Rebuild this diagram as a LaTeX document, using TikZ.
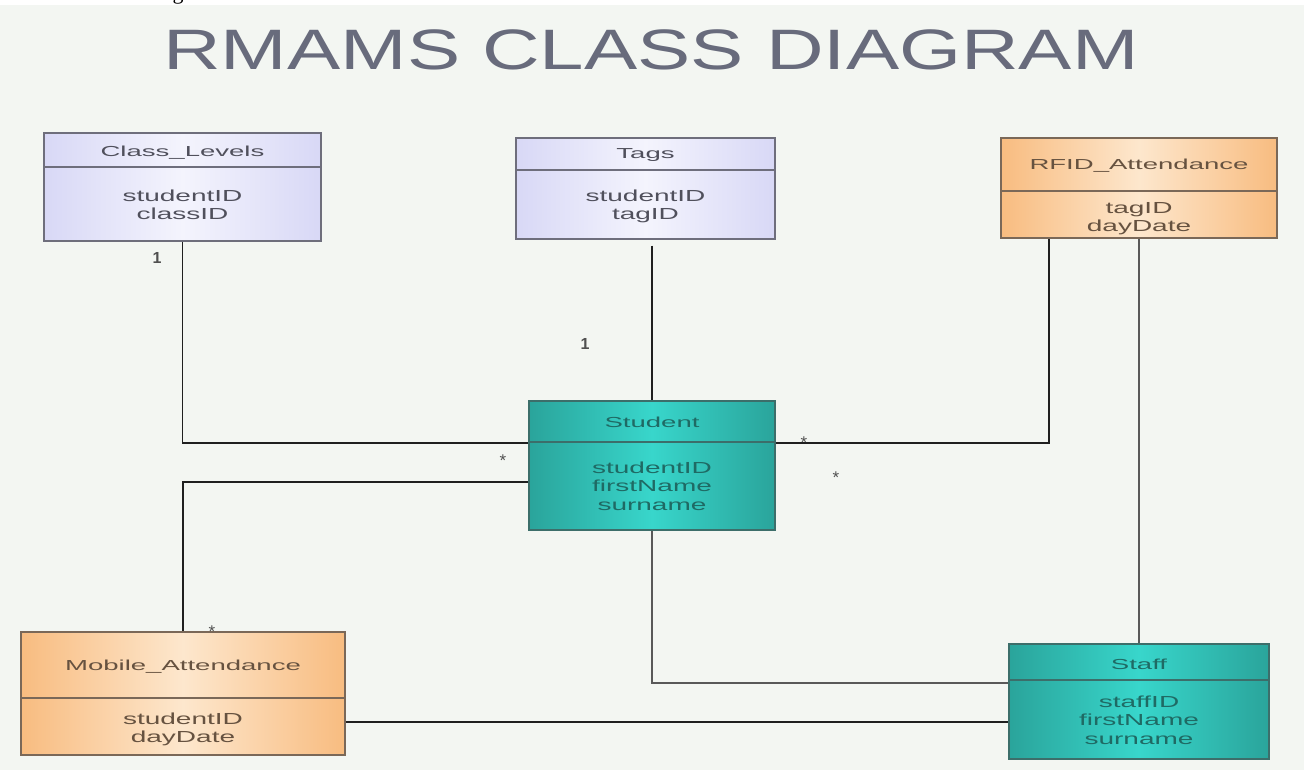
\documentclass[tikz,border=0pt]{standalone}
\usepackage{fontspec}
\setmainfont{Liberation Sans}
\newfontfamily\serifg{Liberation Serif}
\usetikzlibrary{calc}
\definecolor{bgc}{HTML}{F3F6F2}
\definecolor{lavedge}{HTML}{D8D8F6}
\definecolor{lavmid}{HTML}{F4F4FD}
\definecolor{oredge}{HTML}{F8BC80}
\definecolor{ormid}{HTML}{FDE7CD}
\definecolor{tledge}{HTML}{2AA49B}
\definecolor{tlmid}{HTML}{38D6CB}
\definecolor{titleclr}{HTML}{686B7C}
\definecolor{lavtxt}{HTML}{50505C}
\definecolor{ortxt}{HTML}{665240}
\definecolor{tltxt}{HTML}{1F6A64}
\definecolor{lavbd}{HTML}{6E6E7C}
\definecolor{orbd}{HTML}{7A6858}
\definecolor{tlbd}{HTML}{3C6E6A}
\definecolor{multc}{HTML}{505050}
\newcommand{\stretchtxt}[2][1.75]{\scalebox{#1}[1]{#2}}
\newcommand{\ttl}[1]{\stretchtxt[1.9]{\fontsize{14.5}{16}\selectfont #1}}
\newcommand{\attrs}[1]{\stretchtxt[1.75]{\fontsize{16}{18.5}\selectfont\renewcommand{\arraystretch}{1}\begin{tabular}{@{}c@{}}#1\end{tabular}}}
\tikzset{
  lavbox/.style={draw=lavbd, line width=1.2pt, left color=lavedge, right color=lavedge, middle color=lavmid, inner sep=0pt},
  orbox/.style={draw=orbd, line width=1.2pt, left color=oredge, right color=oredge, middle color=ormid, inner sep=0pt},
  tlbox/.style={draw=tlbd, line width=1.2pt, left color=tledge, right color=tledge, middle color=tlmid, inner sep=0pt},
  divl/.style={line width=1.1pt},
  conn/.style={draw=black!88, line width=1.8pt},
  connlt/.style={draw=black!65, line width=1.8pt},
  mult/.style={text=multc, font=\fontsize{16}{16}\selectfont\bfseries, inner sep=0pt},
  star/.style={text=multc, font=\fontsize{17}{17}\selectfont, inner sep=0pt},
}
\begin{document}
\begin{tikzpicture}[x=1pt,y=-1pt]
\useasboundingbox (0,0) rectangle (1304,774);
\fill[white] (0,0) rectangle (1304,774);
\fill[bgc] (0,5) rectangle (1304,770);
% cut-off letter at the top
\begin{scope}
\clip (150,0) rectangle (210,5);
\node[anchor=base, font=\serifg\fontsize{22}{22}\selectfont, inner sep=0pt] (gfrag) at (178,-1) {g};
\end{scope}
% title
\node[anchor=base, text=titleclr, inner sep=0pt] (title) at (651,69) {\stretchtxt[1.4]{\fontsize{57}{57}\selectfont RMAMS CLASS DIAGRAM}};

% Class_Levels
\node[lavbox, minimum width=277pt, minimum height=108pt] (cl) at (182.5,187) {};
\draw[divl, draw=lavbd] (44,167) -- (321,167);
\node[text=lavtxt] (clt) at (182.5,152.5) {\ttl{Class\_Levels}};
\node[text=lavtxt] (cla) at (182.5,207) {\attrs{studentID\\classID}};

% Tags
\node[lavbox, minimum width=259pt, minimum height=101pt] (tg) at (645.5,188.5) {};
\draw[divl, draw=lavbd] (516,170) -- (775,170);
\node[text=lavtxt] (tgt) at (645.5,155.5) {\ttl{Tags}};
\node[text=lavtxt] (tga) at (645.5,207) {\attrs{studentID\\tagID}};

% RFID_Attendance
\node[orbox, minimum width=276pt, minimum height=100pt] (rf) at (1139,188) {};
\draw[divl, draw=orbd] (1001,191) -- (1277,191);
\node[text=ortxt] (rft) at (1139,166) {\ttl{RFID\_Attendance}};
\node[text=ortxt] (rfa) at (1139,219) {\attrs{tagID\\dayDate}};

% Student
\node[tlbox, minimum width=246pt, minimum height=129pt] (st) at (652,465.5) {};
\draw[divl, draw=tlbd] (529,442) -- (775,442);
\node[text=tltxt] (stt) at (652,422) {\ttl{Student}};
\node[text=tltxt] (sta) at (652,488) {\attrs{studentID\\firstName\\surname}};

% Mobile_Attendance
\node[orbox, minimum width=324pt, minimum height=123pt] (mb) at (183,693.5) {};
\draw[divl, draw=orbd] (21,698) -- (345,698);
\node[text=ortxt] (mbt) at (183,667) {\ttl{Mobile\_Attendance}};
\node[text=ortxt] (mba) at (183,730) {\attrs{studentID\\dayDate}};

% Staff
\node[tlbox, minimum width=260pt, minimum height=115pt] (sf) at (1139,701.5) {};
\draw[divl, draw=tlbd] (1009,680) -- (1269,680);
\node[text=tltxt] (sft) at (1139,664) {\ttl{Staff}};
\node[text=tltxt] (sfa) at (1139,722) {\attrs{staffID\\firstName\\surname}};

% connectors
\draw[conn] (cl.south) |- ($(st.west)+(0,-22.5)$);
\draw[conn] ($(tg.south -| st.north)+(0,6)$) -- (st.north);
\draw[conn] ($(st.east)+(0,-22.5)$) -| ($(rf.south)+(-90,0)$);
\draw[connlt] (rf.south) -- (sf.north);
\draw[conn] ($(st.west)+(0,16.5)$) -| (mb.north);
\draw[connlt] (st.south) |- ($(sf.west)+(0,-18.5)$);
\draw[conn, line width=1.5pt] ($(mb.east)+(0,28.5)$) -- ($(sf.west)+(0,20.5)$);

% multiplicities
\node[mult] (m1) at (157,258) {1};
\node[mult] (m2) at (585,344) {1};
\node[star] (s1) at (503,461) {*};
\node[star] (s2) at (804,443) {*};
\node[star] (s3) at (836,478) {*};
\node[star] (s4) at (212,632) {*};
\end{tikzpicture}
\end{document}
